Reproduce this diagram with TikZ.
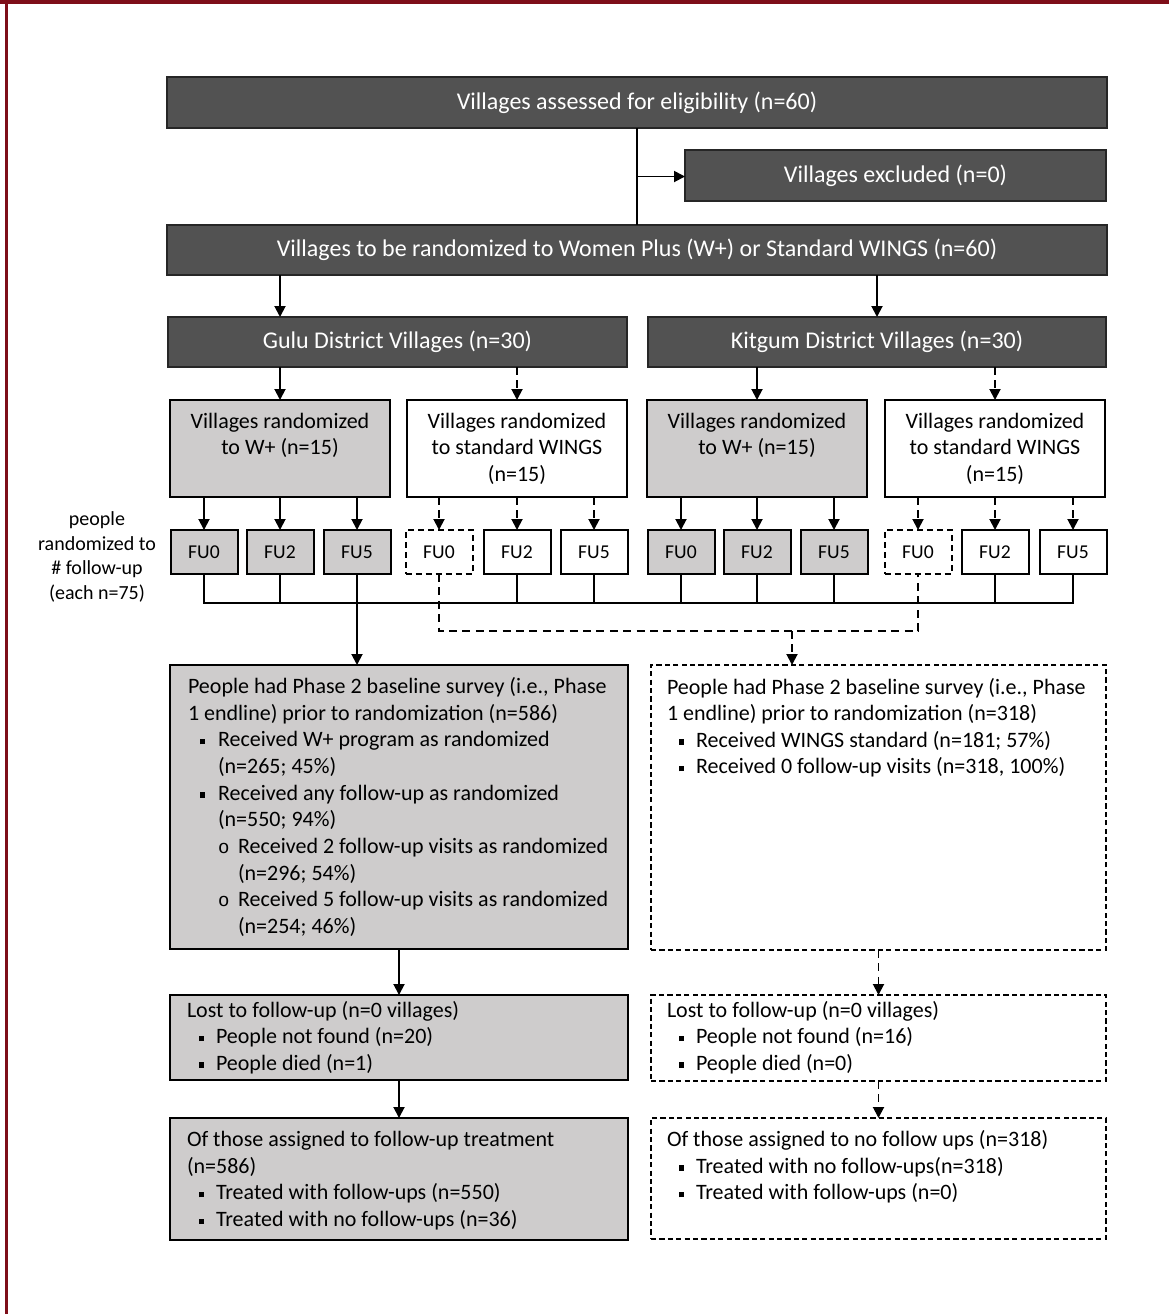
\documentclass[tikz,border=0pt]{standalone}
\usepackage{fontspec}
\setmainfont{Carlito}
\newfontfamily\monofam{Liberation Mono}
\usetikzlibrary{arrows.meta,calc}
\definecolor{darkfill}{HTML}{525252}
\definecolor{darkline}{HTML}{262626}
\definecolor{grayfill}{HTML}{CECCCC}
\definecolor{framered}{HTML}{7E0E19}
\newcommand\bodyfont{\fontsize{11pt}{13.33pt}\selectfont}
\newcommand\sq{\rule[1.3pt]{2.7pt}{2.7pt}}
\newcommand\bitem[2]{\hspace*{6pt}\makebox[#1][l]{\sq}#2}
\newcommand\oitem[1]{\hspace*{15pt}\makebox[10pt][l]{\monofam\fontsize{9.5pt}{9.5pt}\selectfont o}#1}
\newcommand\tbox[5]{\parbox[c][#2][t]{#1}{\bodyfont\raggedright\leftskip=#3\relax\parindent=0pt\vspace*{\dimexpr#4-\ht\strutbox\relax}\strut #5}}
\newcommand\ctbox[4]{\parbox[c][#2][t]{#1}{\bodyfont\centering\vspace*{\dimexpr#3-\ht\strutbox\relax}\strut #4}}
\begin{document}
\begin{tikzpicture}[x=0.5pt,y=-0.5pt,
  every node/.style={inner sep=0pt, outer sep=0pt},
  darkbox/.style={draw=darkline, line width=0.8pt, fill=darkfill, text=white, font=\fontsize{12pt}{14pt}\selectfont},
  graybox/.style={draw=black, line width=0.8pt, fill=grayfill},
  whitebox/.style={draw=black, line width=0.8pt, fill=white},
  dashbox/.style={draw=black, line width=0.8pt, fill=white, dash pattern=on 2.6pt off 1.6pt},
  fubox/.style={draw=black, line width=1pt, minimum width=33.5pt, minimum height=22pt, font=\fontsize{9.8pt}{11pt}\selectfont},
  fugray/.style={fubox, fill=grayfill},
  fuwhite/.style={fubox, fill=white},
  fudash/.style={fubox, fill=white, dash pattern=on 3pt off 2pt},
  link/.style={line width=0.95pt, draw=black},
  arr/.style={link, -{Triangle[length=5.5pt,width=5.5pt]}},
  dlink/.style={link, dash pattern=on 4pt off 2.7pt},
  darr/.style={arr, dash pattern=on 4pt off 2.7pt},
]
\useasboundingbox (0,0) rectangle (1169,1314);
\fill[white] (0,0) rectangle (1169,1314);
\fill[framered] (0,0) rectangle (1169,4);
\fill[framered] (5,0) rectangle (8,1314);

% top dark boxes
\node[darkbox, minimum width=470pt, minimum height=25.5pt] (top) at (637,102.5) {Villages assessed for eligibility (n=60)};
\node[darkbox, minimum width=210.5pt, minimum height=25.5pt] (excl) at (895.5,175.5) {Villages excluded (n=0)};
\node[darkbox, minimum width=470pt, minimum height=25pt] (rand) at (637,250) {Villages to be randomized to Women Plus (W+) or Standard WINGS (n=60)};
\node[darkbox, minimum width=229.5pt, minimum height=25pt] (gulu) at (397.5,342) {Gulu District Villages (n=30)};
\node[darkbox, minimum width=229pt, minimum height=25pt] (kit) at (877,342) {Kitgum District Villages (n=30)};

% level 3
\node[graybox] (A) at (280,448.5) {\ctbox{110pt}{48.5pt}{14pt}{Villages randomized\\to W+ (n=15)}};
\node[whitebox] (B) at (517,448.5) {\ctbox{110pt}{48.5pt}{14pt}{Villages randomized\\to standard WINGS\\(n=15)}};
\node[graybox] (C) at (757,448.5) {\ctbox{110pt}{48.5pt}{14pt}{Villages randomized\\to W+ (n=15)}};
\node[whitebox] (D) at (995,448.5) {\ctbox{110pt}{48.5pt}{14pt}{Villages randomized\\to standard WINGS\\(n=15)}};

% follow-up boxes
\node[fugray] (fa0) at (204,552) {FU0};
\node[fugray] (fa2) at (280,552) {FU2};
\node[fugray] (fa5) at (357,552) {FU5};
\node[fudash] (fb0) at (439,552) {FU0};
\node[fuwhite] (fb2) at (517,552) {FU2};
\node[fuwhite] (fb5) at (594,552) {FU5};
\node[fugray] (fc0) at (681,552) {FU0};
\node[fugray] (fc2) at (757,552) {FU2};
\node[fugray] (fc5) at (834,552) {FU5};
\node[fudash] (fd0) at (918,552) {FU0};
\node[fuwhite] (fd2) at (995,552) {FU2};
\node[fuwhite] (fd5) at (1073,552) {FU5};

\node[font=\fontsize{10pt}{12.25pt}\selectfont, align=center] (lbl) at (97,557) {people\\randomized to\\\# follow-up\\(each n=75)};

% big boxes
\node[graybox, anchor=north west] (L1) at (170,665) {\tbox{229pt}{142pt}{9pt}{14.3pt}{People had Phase 2 baseline survey (i.e., Phase\\1 endline) prior to randomization (n=586)\\\bitem{9pt}{Received W+ program as randomized}\\\hspace*{15pt}(n=265; 45\%)\\\bitem{9pt}{Received any follow-up as randomized}\\\hspace*{15pt}(n=550; 94\%)\\\oitem{Received 2 follow-up visits as randomized}\\\hspace*{25pt}(n=296; 54\%)\\\oitem{Received 5 follow-up visits as randomized}\\\hspace*{25pt}(n=254; 46\%)}};
\node[dashbox, anchor=north west] (R1) at (651,665) {\tbox{227.5pt}{142.5pt}{8pt}{14.5pt}{People had Phase 2 baseline survey (i.e., Phase\\1 endline) prior to randomization (n=318)\\\bitem{8.5pt}{Received WINGS standard (n=181; 57\%)}\\\bitem{8.5pt}{Received 0 follow-up visits (n=318, 100\%)}}};

\node[graybox, anchor=north west] (L2) at (170,995) {\tbox{229pt}{42.5pt}{8.5pt}{11pt}{Lost to follow-up (n=0 villages)\\\bitem{8.5pt}{People not found (n=20)}\\\bitem{8.5pt}{People died (n=1)}}};
\node[dashbox, anchor=north west] (R2) at (651,995) {\tbox{227.5pt}{43pt}{8pt}{11pt}{Lost to follow-up (n=0 villages)\\\bitem{8.5pt}{People not found (n=16)}\\\bitem{8.5pt}{People died (n=0)}}};

\node[graybox, anchor=north west] (L3) at (170,1118) {\tbox{229pt}{61pt}{8.5pt}{14.3pt}{Of those assigned to follow-up treatment\\(n=586)\\\bitem{8.5pt}{Treated with follow-ups (n=550)}\\\bitem{8.5pt}{Treated with no follow-ups (n=36)}}};
\node[dashbox, anchor=north west] (R3) at (651,1118) {\tbox{227.5pt}{60.5pt}{8pt}{14.3pt}{Of those assigned to no follow ups (n=318)\\\bitem{8.5pt}{Treated with no follow-ups(n=318)}\\\bitem{8.5pt}{Treated with follow-ups (n=0)}}};

% connectors
\draw[link] (top.south) -- (rand.north);
\coordinate (jx) at ($(top.south)!0.5!(rand.north)$);
\draw[arr] (jx) -- (jx -| excl.west);
\draw[arr] (rand.south -| A.north) -- (gulu.north -| A.north);
\draw[arr] (kit.north |- rand.south) -- (kit.north);
\draw[arr] (A.north |- gulu.south) -- (A.north);
\draw[darr] (B.north |- gulu.south) -- (B.north);
\draw[arr] (C.north |- kit.south) -- (C.north);
\draw[darr] (D.north |- kit.south) -- (D.north);
\foreach \f in {fa0,fa2,fa5} \draw[arr] (A.south -| \f.north) -- (\f.north);
\foreach \f in {fb0,fb2,fb5} \draw[darr] (B.south -| \f.north) -- (\f.north);
\foreach \f in {fc0,fc2,fc5} \draw[arr] (C.south -| \f.north) -- (\f.north);
\foreach \f in {fd0,fd2,fd5} \draw[darr] (D.south -| \f.north) -- (\f.north);

\coordinate (bus) at (0,603);
\coordinate (dbus) at (0,631);
\coordinate (dj) at (792,631);
\draw[link] (fa0.south) -- (fa0.south |- bus) -- (fd5.south |- bus) -- (fd5.south);
\foreach \f in {fa2,fb2,fb5,fc0,fc2,fc5,fd2} \draw[link] (\f.south) -- (\f.south |- bus);
\draw[arr] (fa5.south) -- (fa5.south |- L1.north);
\draw[dlink] (fb0.south) -- (fb0.south |- dbus) -- (fd0.south |- dbus) -- (fd0.south);
\draw[darr] (dj) -- (dj |- R1.north);

\draw[arr] (L1.south) -- (L2.north);
\draw[arr] (L2.south) -- (L3.north);
\draw[darr] (R1.south) -- (R2.north);
\draw[darr] (R2.south) -- (R3.north);
\end{tikzpicture}
\end{document}
